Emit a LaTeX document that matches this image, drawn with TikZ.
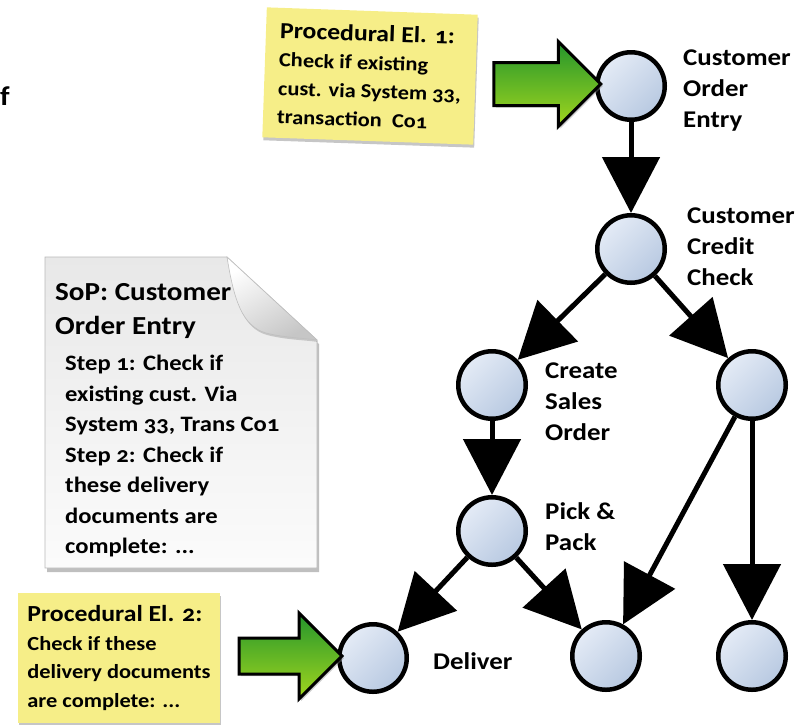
\documentclass[tikz,border=0pt]{standalone}
\usepackage{fontspec}
\setmainfont{Carlito}[Numbers=OldStyle,FakeStretch=1.12]
\usetikzlibrary{arrows.meta,shapes.arrows,shadows}
\definecolor{notey}{HTML}{F6EE88}
\definecolor{nodelight}{HTML}{E4EBF6}
\definecolor{nodedark}{HTML}{B8C9E1}
\definecolor{arrowtop}{HTML}{23952C}
\definecolor{arrowbot}{HTML}{A2D61E}

\begin{document}
\begin{tikzpicture}[x=1pt,y=-1pt,
  state/.style={circle,draw,line width=4.5pt,minimum size=67.5pt,inner sep=0pt,
    top color=nodelight,bottom color=nodedark,shading angle=45},
  flow/.style={line width=5pt,-{Triangle[length=56pt,width=57pt]}},
  lbl/.style={anchor=north west,inner sep=0pt,align=left,
    font=\bfseries\fontsize{24}{31}\selectfont},
  note/.style={fill=notey,minimum height=130pt,align=left,inner sep=0pt,
    font=\bfseries\fontsize{20}{28.5}\selectfont,
    drop shadow={shadow xshift=1pt,shadow yshift=-3pt,opacity=.45}},
  bigarrow/.style={single arrow,draw,line width=3pt,inner xsep=0pt,
    top color=arrowtop,bottom color=arrowbot,single arrow head indent=0pt,
    drop shadow={shadow xshift=2pt,shadow yshift=-2pt,opacity=.4}}]
  \useasboundingbox (0,0) rectangle (799,724);

  % cut-off text at the left border
  \node[anchor=base west,inner sep=0pt,font=\bfseries\fontsize{27}{30}\selectfont]
    (cut) at (0,105) {f};

  % process steps
  \node[state] (coe) at (631,86) {};
  \node[state] (ccc) at (631,249) {};
  \node[state] (cso) at (492,385) {};
  \node[state] (chk) at (752,385) {};
  \node[state] (pp)  at (492,531) {};
  \node[state] (dlv) at (373,658) {};
  \node[state] (nb)  at (606,656) {};
  \node[state] (nr)  at (752,656) {};

  \foreach \a/\b in {coe/ccc,ccc/cso,ccc/chk,cso/pp,pp/dlv,pp/nb,chk/nb,chk/nr} {
    \draw[flow] (\a) -- (\b);
  }

  \node[lbl] (coe-l) at (683,50)  {Customer\\Order\\Entry};
  \node[lbl] (ccc-l) at (687,208) {Customer\\Credit\\Check};
  \node[lbl] (cso-l) at (545,363) {Create\\Sales\\Order};
  \node[lbl] (pp-l)  at (545,502) {Pick \&\\Pack};
  \node[lbl] (dlv-l) at (433,652) {Deliver};

  % sticky notes and green arrows
  \node[note,minimum width=211pt,rotate=-2] (pe1) at (370,76)
    {{\fontsize{23}{28}\selectfont Procedural El. 1:}\\Check if existing\\
     cust. via System 33,\\transaction~ Co1};
  \node[note,minimum width=202pt] (pe2) at (119,658)
    {{\fontsize{23}{28}\selectfont Procedural El. 2:}\\Check if these\\
     delivery documents\\are complete: ...};

  \node[bigarrow,minimum height=107pt,inner ysep=20pt,single arrow head extend=21pt]
    (ga1) at (536.5,84) {};
  \node[bigarrow,minimum height=103pt,inner ysep=16.5pt,single arrow head extend=25pt]
    (ga2) at (281.5,656) {};

  % SoP document with folded corner
  \path[draw=gray!55,line width=0.8pt,top color=gray!18,bottom color=gray!3,
    drop shadow={shadow xshift=2pt,shadow yshift=-4pt,opacity=.5}]
    (45,257) -- (227,257) -- (317,340) -- (317,568) -- (45,568) -- cycle;
  \path[draw=gray!50,line width=0.6pt,left color=white,right color=gray!45,shading angle=30,
    drop shadow={shadow xshift=1pt,shadow yshift=-2pt,opacity=.35}]
    (227,257) .. controls (234,300) and (242,326) .. (266,333)
    .. controls (286,338) and (304,338) .. (317,340) -- cycle;

  \node[anchor=north west,inner sep=0pt,align=left,
    font=\bfseries\fontsize{26}{34}\selectfont] (sop) at (55,283)
    {SoP: Customer\\Order Entry};
  \node[anchor=north west,inner sep=0pt,align=left,
    font=\bfseries\fontsize{22}{30.5}\selectfont] (steps) at (65,355)
    {Step 1: Check if\\existing cust. Via\\System 33, Trans Co1\\Step 2: Check if\\
     these delivery\\documents are\\complete: ...};
\end{tikzpicture}
\end{document}
